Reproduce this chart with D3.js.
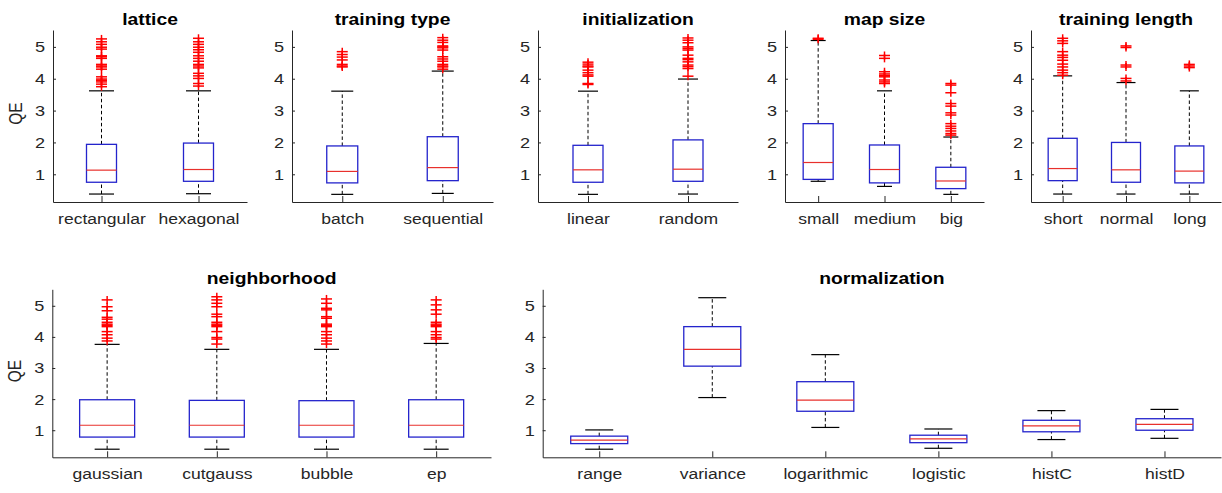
<!DOCTYPE html>
<meta charset="utf-8">
<script src="https://d3js.org/d3.v7.min.js"></script>
<style>
  body { margin: 0; background: #fff; }
  text { font-family: 'Liberation Sans', Arial, sans-serif; }
</style>
<body>
<div id="my_dataviz"></div>
</body>
<script>

// ---- data: per panel, [whisker low, q1, median, q3, whisker high] and outliers ----
var latticeCats = ["rectangular", "hexagonal"];
var latticeStats = [[0.38, 0.75, 1.13, 1.94, 3.62], [0.39, 0.78, 1.15, 1.98, 3.62]];
var latticeOut = [
  [5.25, 5.16, 5.08, 4.99, 4.93, 4.72, 4.69, 4.64, 4.45, 4.40, 4.37, 4.30, 4.06, 3.99, 3.95, 3.90, 3.83, 3.75],
  [5.27, 5.16, 5.08, 4.99, 4.91, 4.83, 4.72, 4.64, 4.55, 4.45, 4.40, 4.34, 4.17, 4.09, 4.01, 3.85, 3.77]
];

var typeCats = ["batch", "sequential"];
var typeStats = [[0.37, 0.73, 1.09, 1.89, 3.61], [0.40, 0.80, 1.21, 2.18, 4.24]];
var typeOut = [
  [4.85, 4.76, 4.68, 4.59, 4.45, 4.40, 4.37],
  [5.29, 5.21, 5.14, 5.03, 5.00, 4.97, 4.90, 4.69, 4.62, 4.55, 4.45, 4.40, 4.37, 4.30]
];

var initCats = ["linear", "random"];
var initStats = [[0.37, 0.75, 1.14, 1.91, 3.61], [0.38, 0.78, 1.16, 2.08, 3.99]];
var initOut = [
  [4.52, 4.46, 4.40, 4.37, 4.27, 4.19, 4.12, 4.08, 3.85, 3.82],
  [5.28, 5.21, 5.13, 5.00, 4.95, 4.90, 4.74, 4.64, 4.60, 4.53, 4.43, 4.38, 4.32, 4.08]
];

var sizeCats = ["small", "medium", "big"];
var sizeStats = [[0.78, 0.84, 1.37, 2.59, 5.20], [0.62, 0.73, 1.15, 1.92, 3.62], [0.37, 0.55, 0.79, 1.22, 2.17]];
var sizeOut = [
  [5.24, 5.27],
  [4.73, 4.64, 4.22, 4.15, 4.10, 4.06, 3.96, 3.90, 3.85],
  [3.85, 3.80, 3.56, 3.22, 3.14, 2.93, 2.86, 2.59, 2.51, 2.44, 2.36, 2.28, 2.23]
];

var lengthCats = ["short", "normal", "long"];
var lengthStats = [[0.38, 0.80, 1.18, 2.13, 4.09], [0.38, 0.75, 1.14, 2.00, 3.88], [0.38, 0.73, 1.10, 1.89, 3.62]];
var lengthOut = [
  [5.27, 5.19, 5.11, 4.85, 4.74, 4.67, 4.58, 4.46, 4.37, 4.27, 4.19, 4.11],
  [5.03, 4.98, 4.43, 4.37, 4.01, 3.93],
  [4.45, 4.40, 4.35]
];

var neighCats = ["gaussian", "cutgauss", "bubble", "ep"];
var neighStats = [[0.39, 0.78, 1.16, 1.98, 3.76], [0.39, 0.78, 1.16, 1.96, 3.60], [0.39, 0.78, 1.16, 1.95, 3.60], [0.39, 0.78, 1.16, 1.98, 3.79]];
var neighOut = [
  [5.19, 4.97, 4.84, 4.63, 4.57, 4.47, 4.41, 4.37, 4.33, 4.17, 4.07, 3.96, 3.87],
  [5.29, 5.19, 5.08, 4.97, 4.73, 4.65, 4.47, 4.41, 4.37, 4.33, 4.17, 3.98, 3.93, 3.77],
  [5.22, 5.08, 4.92, 4.87, 4.65, 4.60, 4.41, 4.37, 4.33, 4.17, 4.07, 3.96, 3.87, 3.77],
  [5.19, 5.03, 4.87, 4.73, 4.47, 4.41, 4.37, 4.33, 4.17, 4.07, 3.98, 3.93]
];

var normCats = ["range", "variance", "logarithmic", "logistic", "histC", "histD"];
var normStats = [
  [0.39, 0.57, 0.68, 0.81, 1.01], [2.05, 3.06, 3.60, 4.33, 5.26], [1.09, 1.61, 1.97, 2.56, 3.43],
  [0.42, 0.60, 0.72, 0.84, 1.04], [0.70, 0.95, 1.14, 1.32, 1.63], [0.74, 1.00, 1.19, 1.37, 1.67]
];
var normOut = [[], [], [], [], [], []];

var yTicks = [1, 2, 3, 4, 5];

// ---- layout ----
var W = 1222, H = 493;
var stretch = 1.17;   // picture is slightly stretched sideways

var panels = [
  {title: "lattice",         cats: latticeCats, stats: latticeStats, out: latticeOut, x0: 53,    x1: 247,  top: 30,    bottom: 202,   boxW: 30, capW: 25, ylabel: true},
  {title: "training type",   cats: typeCats,    stats: typeStats,    out: typeOut,    x0: 292,   x1: 493,  top: 30,    bottom: 202,   boxW: 31, capW: 22},
  {title: "initialization",  cats: initCats,    stats: initStats,    out: initOut,    x0: 538,   x1: 738,  top: 30,    bottom: 202,   boxW: 30, capW: 20},
  {title: "map size",        cats: sizeCats,    stats: sizeStats,    out: sizeOut,    x0: 785,   x1: 984,  top: 30,    bottom: 202,   boxW: 30, capW: 15},
  {title: "training length", cats: lengthCats,  stats: lengthStats,  out: lengthOut,  x0: 1031,  x1: 1221, top: 30,    bottom: 202,   boxW: 29, capW: 19},
  {title: "neighborhood",    cats: neighCats,   stats: neighStats,   out: neighOut,   x0: 52.3,  x1: 491,  top: 289.3, bottom: 457.3, boxW: 55, capW: 25, ylabel: true},
  {title: "normalization",   cats: normCats,    stats: normStats,    out: normOut,    x0: 542.7, x1: 1221, top: 289.3, bottom: 457.3, boxW: 57, capW: 28}
];

var svg = d3.select("#my_dataviz")
  .append("svg")
    .attr("width", W)
    .attr("height", H);

var axisColor = "#262626";

panels.forEach(function(p) {

  var x = d3.scalePoint()
    .domain(p.cats)
    .range([p.x0, p.x1])
    .padding(0.5);

  var y = d3.scaleLinear()
    .domain([0.13, 5.53])
    .range([p.bottom, p.top]);

  var g = svg.append("g");

  // y axis (ticks inside)
  var yAxis = g.append("g")
    .attr("transform", "translate(" + p.x0 + ",0)")
    .call(d3.axisLeft(y).tickValues(yTicks).tickFormat(d3.format("d"))
      .tickSizeInner(-3).tickSizeOuter(0).tickPadding(6.8));
  yAxis.selectAll("text")
    .attr("transform", "scale(" + stretch + ",1)")
    .style("font-size", "15.5px")
    .attr("fill", axisColor);

  // x axis (ticks inside)
  var xAxis = g.append("g")
    .attr("transform", "translate(0," + p.bottom + ")")
    .call(d3.axisBottom(x).tickSizeInner(-6).tickSizeOuter(0));
  xAxis.selectAll("text")
    .attr("y", 22)
    .attr("dy", null)
    .attr("transform", "scale(" + stretch + ",1)")
    .style("font-size", "15px")
    .attr("fill", axisColor);

  [yAxis, xAxis].forEach(function(a) {
    a.select(".domain").attr("stroke", axisColor).attr("stroke-width", 1);
    a.selectAll(".tick line").attr("stroke", axisColor);
  });

  // title
  g.append("text")
    .attr("transform", "translate(" + ((p.x0 + p.x1) / 2) + "," + (p.top - 5.5) + ") scale(" + stretch + ",1)")
    .attr("text-anchor", "middle")
    .style("font-size", "16.5px")
    .style("font-weight", "bold")
    .attr("fill", "#000")
    .text(p.title);

  // y label
  if (p.ylabel) {
    g.append("text")
      .attr("transform", "translate(" + (p.x0 - 31) + "," + (y(3) + 3) + ") scale(" + stretch + ",1) rotate(-90)")
      .attr("text-anchor", "middle")
      .style("font-size", "15.5px")
      .attr("fill", axisColor)
      .text("QE");
  }

  // boxes
  var rows = p.cats.map(function(c, i) { return {cat: c, s: p.stats[i], out: p.out[i]}; });

  var b = g.selectAll(".bx")
    .data(rows)
    .enter()
    .append("g")
      .attr("class", "bx")
      .attr("transform", function(d) { return "translate(" + x(d.cat) + ",0)"; });

  // whiskers
  b.append("line")
    .attr("y1", function(d) { return y(d.s[3]); })
    .attr("y2", function(d) { return y(d.s[4]); })
    .attr("stroke", "#000").attr("stroke-width", 1).attr("stroke-dasharray", "3.5,2.5");
  b.append("line")
    .attr("y1", function(d) { return y(d.s[0]); })
    .attr("y2", function(d) { return y(d.s[1]); })
    .attr("stroke", "#000").attr("stroke-width", 1).attr("stroke-dasharray", "3.5,2.5");

  // caps
  [0, 4].forEach(function(k) {
    b.append("line")
      .attr("x1", -p.capW / 2).attr("x2", p.capW / 2)
      .attr("y1", function(d) { return y(d.s[k]); })
      .attr("y2", function(d) { return y(d.s[k]); })
      .attr("stroke", "#000").attr("stroke-width", 1.2);
  });

  // box
  b.append("rect")
    .attr("x", -p.boxW / 2)
    .attr("width", p.boxW)
    .attr("y", function(d) { return y(d.s[3]); })
    .attr("height", function(d) { return y(d.s[1]) - y(d.s[3]); })
    .attr("fill", "none")
    .attr("stroke", "#2424cc")
    .attr("stroke-width", 1.3);

  // median
  b.append("line")
    .attr("x1", -p.boxW / 2).attr("x2", p.boxW / 2)
    .attr("y1", function(d) { return y(d.s[2]); })
    .attr("y2", function(d) { return y(d.s[2]); })
    .attr("stroke", "#e8302c").attr("stroke-width", 1.2);

  // outliers as red +
  var o = b.selectAll(".ol")
    .data(function(d) { return d.out; })
    .enter()
    .append("g")
      .attr("class", "ol")
      .attr("transform", function(v) { return "translate(0," + y(v) + ")"; });
  o.append("line").attr("x1", -5.5).attr("x2", 5.5).attr("stroke", "#f00").attr("stroke-width", 1.5);
  o.append("line").attr("y1", -4).attr("y2", 4).attr("stroke", "#f00").attr("stroke-width", 1.5);
});

</script>
